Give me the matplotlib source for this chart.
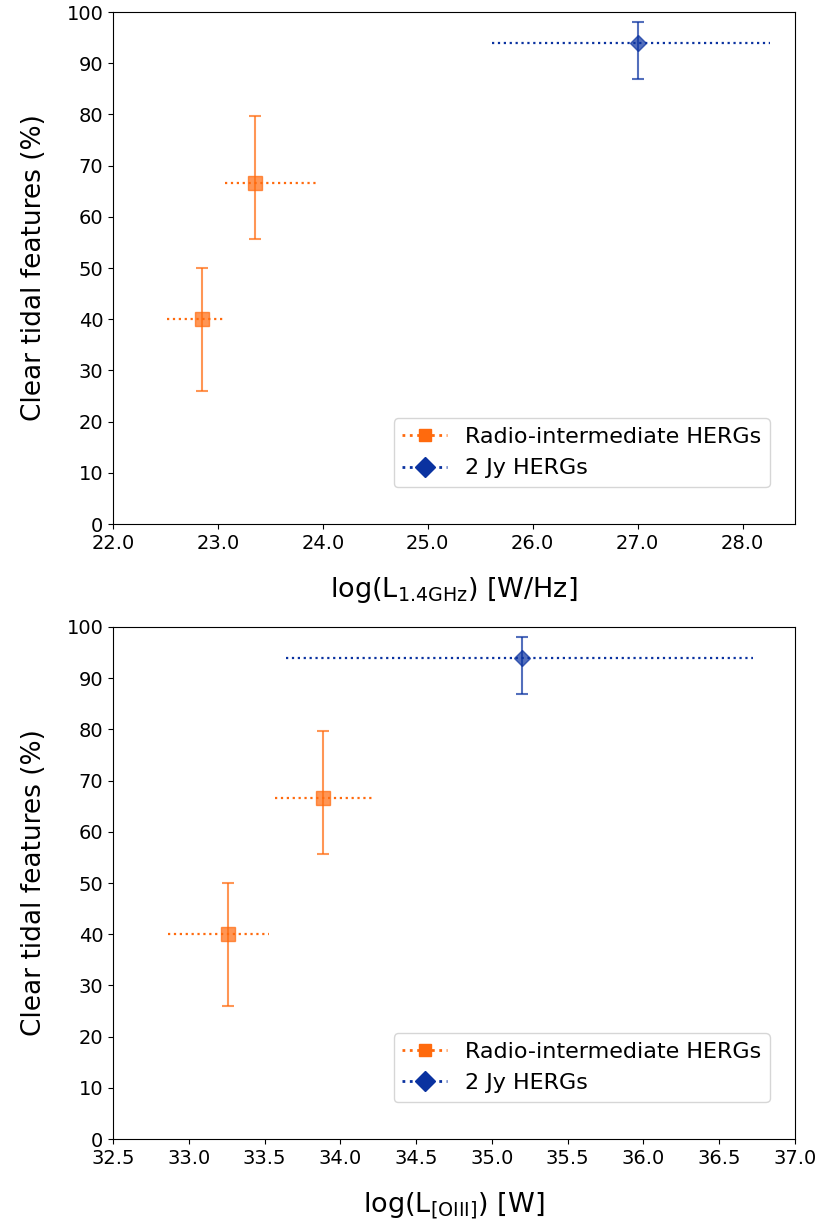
#!/usr/bin/env python
'''
    Fraction of galaxies with clear tidal features versus radio and [OIII] luminosity.
'''
import matplotlib
matplotlib.use('Agg')
import matplotlib.pyplot as plt
from matplotlib.lines import Line2D
from matplotlib.ticker import FormatStrFormatter

# radio-intermediate HERGs (two luminosity bins) and the 2 Jy HERGs
ri_frac = [40.0, 66.7]
ri_lo = [26.0, 55.7]
ri_hi = [50.0, 79.7]
jy_frac = [94.0]
jy_lo = [87.0]
jy_hi = [98.0]

# log L(1.4GHz): median and range of each bin
ri_lrad = [22.85, 23.35]
ri_lrad_min = [22.51, 23.07]
ri_lrad_max = [23.06, 23.96]
jy_lrad = [27.0]
jy_lrad_min = [25.61]
jy_lrad_max = [28.26]

# log L[OIII]
ri_loiii = [33.26, 33.885]
ri_loiii_min = [32.86, 33.57]
ri_loiii_max = [33.53, 34.23]
jy_loiii = [35.2]
jy_loiii_min = [33.64]
jy_loiii_max = [36.72]

orange = '#ff6a0d'
blue = '#0a32a0'

fig = plt.figure(figsize=(8.19, 12.27), dpi=100)
ax1 = fig.add_axes([0.138, 0.5729, 0.8327, 0.4173])
ax2 = fig.add_axes([0.138, 0.0717, 0.8327, 0.4173])


def draw(ax, xr, xr_min, xr_max, xj, xj_min, xj_max):
    ax.hlines(ri_frac, xr_min, xr_max, colors=orange, linestyles=':', lw=1.6)
    ax.hlines(jy_frac, xj_min, xj_max, colors=blue, linestyles=':', lw=1.6)
    ax.errorbar(xr, ri_frac,
                yerr=[[f - l for f, l in zip(ri_frac, ri_lo)],
                      [h - f for f, h in zip(ri_frac, ri_hi)]],
                fmt='s', color=orange, ms=10.5, alpha=0.7, capsize=4.5,
                elinewidth=1.5, capthick=1.5)
    ax.errorbar(xj, jy_frac,
                yerr=[[f - l for f, l in zip(jy_frac, jy_lo)],
                      [h - f for f, h in zip(jy_frac, jy_hi)]],
                fmt='D', color=blue, ms=8.5, alpha=0.7, capsize=4.5,
                elinewidth=1.5, capthick=1.5)
    handles = [Line2D([], [], color=orange, ls=':', lw=2, marker='s', ms=8),
               Line2D([], [], color=blue, ls=':', lw=2, marker='D', ms=10)]
    ax.legend(handles, ['Radio-intermediate HERGs', '2 Jy HERGs'],
              loc='lower right', bbox_to_anchor=(0.963, 0.072),
              borderaxespad=0, fontsize=16)
    ax.set_ylim(0, 100)
    ax.set_yticks(range(0, 101, 10))
    ax.set_ylabel('Clear tidal features (%)', fontsize=19, labelpad=14)
    ax.tick_params(labelsize=14)
    ax.xaxis.set_major_formatter(FormatStrFormatter('%.1f'))


draw(ax1, ri_lrad, ri_lrad_min, ri_lrad_max, jy_lrad, jy_lrad_min, jy_lrad_max)
ax1.set_xlim(22.0, 28.5)
ax1.set_xticks([22, 23, 24, 25, 26, 27, 28])
ax1.set_xlabel(r'log(L$_{\rm 1.4GHz}$) [W/Hz]', fontsize=19.5, labelpad=16)

draw(ax2, ri_loiii, ri_loiii_min, ri_loiii_max, jy_loiii, jy_loiii_min, jy_loiii_max)
ax2.set_xlim(32.5, 37.0)
ax2.set_xticks([32.5 + 0.5 * i for i in range(10)])
ax2.set_xlabel(r'log(L$_{\rm [OIII]}$) [W]', fontsize=19.5, labelpad=16)

fig.savefig('out.png', dpi=100)
